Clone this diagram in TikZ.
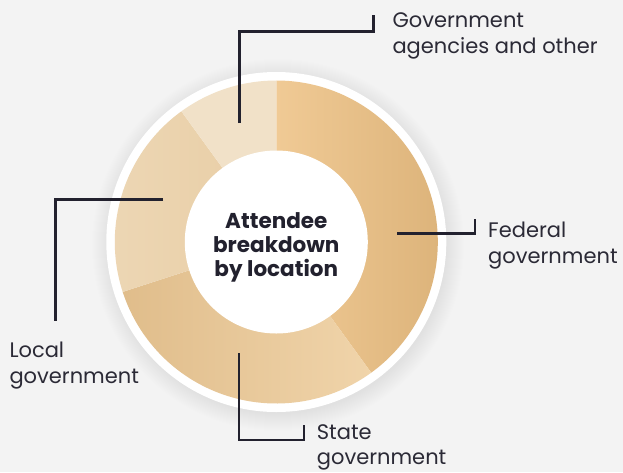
\documentclass[tikz,border=0pt]{standalone}
\usepackage{fontspec}
\setmainfont{Poppins}
\definecolor{bg}{HTML}{F3F3F3}
\definecolor{ink}{HTML}{22212E}
\definecolor{labelink}{HTML}{2B2A36}
\definecolor{fedL}{HTML}{F0CA95}
\definecolor{fedR}{HTML}{DDB47B}
\definecolor{stD}{HTML}{E0BD8B}
\definecolor{stL}{HTML}{F0D4AA}
\definecolor{locA}{HTML}{EDD7B5}
\definecolor{locB}{HTML}{E8CDA4}
\definecolor{oth}{HTML}{F1E1C8}
\tikzset{
  leader/.style={draw=ink, line width=2.6pt},
  lbl/.style={anchor=base west, inner sep=0pt, align=left, text=labelink,
    font=\fontsize{21}{26}\selectfont},
  centerlbl/.style={align=center, inner sep=0pt, text=ink,
    font=\bfseries\fontsize{21.5}{24}\selectfont},
}
\begin{document}
\begin{tikzpicture}[x=1pt,y=1pt]
\fill[bg] (0,0) rectangle (623,-472);
\useasboundingbox (0,0) rectangle (623,-472);
\coordinate (c) at (276.3,-242);
\coordinate (cs) at (278,-245);
% soft shadow
\foreach \i in {1,...,18}{
  \fill[black, opacity=0.0055] (cs) circle (168+\i);
}
% white outer ring
\fill[white] (c) circle (170);
% segments
\shade[left color=fedL, right color=fedR]
  (c) -- ++(90:161.5) arc[start angle=90, end angle=-54, radius=161.5] -- cycle;
\shade[left color=stD, right color=stL]
  (c) -- ++(-54:161.5) arc[start angle=-54, end angle=-162, radius=161.5] -- cycle;
\shade[left color=locA, right color=locB]
  (c) -- ++(-162:161.5) arc[start angle=-162, end angle=-234, radius=161.5] -- cycle;
\fill[oth]
  (c) -- ++(126:161.5) arc[start angle=126, end angle=90, radius=161.5] -- cycle;
% inner white disc
\fill[white] (c) circle (91.5);
\node[centerlbl] (title) at (276.3,-247.5) {Attendee\\breakdown\\by location};
% leader coordinates
\coordinate (o1) at (239.5,-123);
\coordinate (o2) at (239.5,-31.7);
\coordinate (o3) at (373.3,-31.7);
\coordinate (o4) at (373.3,-14.5);
\coordinate (f1) at (397.3,-233.3);
\coordinate (f2) at (475,-233.3);
\coordinate (f3) at (475,-219);
\coordinate (l1) at (163,-199.3);
\coordinate (l2) at (55.5,-199.3);
\coordinate (l3) at (55.5,-321);
\coordinate (s1) at (239,-353.3);
\coordinate (s2) at (239,-440);
\coordinate (s3) at (304,-440);
\coordinate (s4) at (304,-424.5);
\draw[leader] (o1) -- (o2) -- (o3) -- (o4);
\draw[leader] (f1) -- (f2) -- (f3);
\draw[leader] (l1) -- (l2) -- (l3);
\draw[leader] (s1) -- (s2) -- (s3) -- (s4);
% labels (anchored at the baseline of the last line)
\node[lbl] (other) at (392.3,-53.3) {Government\\agencies and other};
\node[lbl] (federal) at (488,-263) {Federal\\government};
\node[lbl] (local) at (9.3,-383.3) {Local\\government};
\node[lbl, font=\fontsize{21}{25}\selectfont] (state) at (316.7,-464) {State\\government};
\end{tikzpicture}
\end{document}
